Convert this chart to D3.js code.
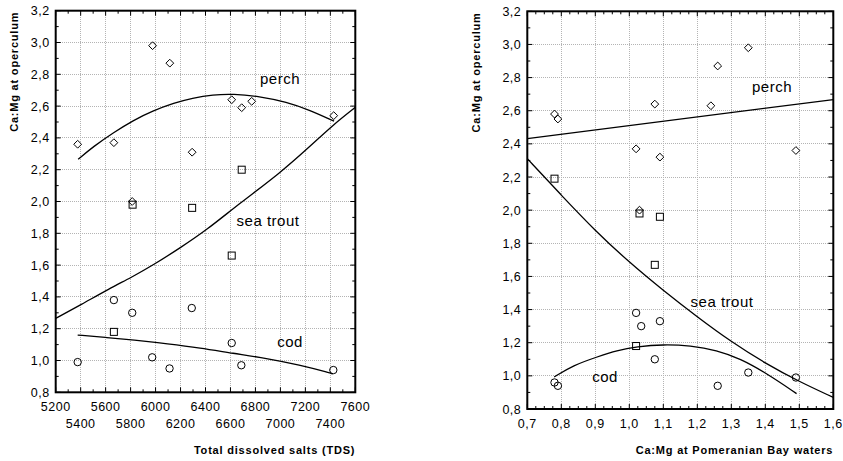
<!DOCTYPE html>
<html><head><meta charset="utf-8">
<script src="https://cdn.jsdelivr.net/npm/d3@7"></script>
<style>body{margin:0;background:#fff} text{font-family:"Liberation Sans",Arial,sans-serif;fill:#000}</style>
</head><body><svg id="c" width="843" height="461"></svg>
<script>
// ---------- DATA ----------
// Left panel: TDS vs Ca:Mg at operculum
const tdsPerch   = [5376,5666,5813,5976,6114,6293,6610,6690,6770,7427];
const perchCaMgL = [2.36,2.37,2.00,2.98,2.87,2.31,2.64,2.59,2.63,2.54];
const tdsTrout   = [5666,5816,6293,6610,6690];
const troutCaMgL = [1.18,1.98,1.96,1.66,2.20];
const tdsCod     = [5376,5666,5813,5973,6112,6290,6610,6687,7424];
const codCaMgL   = [0.99,1.38,1.30,1.02,0.95,1.33,1.11,0.97,0.94];
// fitted curves (left)
const perchFitLx = [5380,5500,5666,5820,5976,6150,6293,6460,6620,6830,7050,7235,7430];
const perchFitLy = [2.265,2.345,2.435,2.51,2.57,2.62,2.65,2.672,2.677,2.662,2.626,2.575,2.505];
const troutFitLx = [5200,5400,5634,5800,5981,6200,6408,6674,6994,7234,7421,7600];
const troutFitLy = [1.265,1.35,1.454,1.52,1.60,1.71,1.82,1.989,2.177,2.345,2.481,2.592];
const codFitLx   = [5376,5600,5821,6100,6354,6621,6888,7154,7394,7420];
const codFitLy   = [1.16,1.145,1.129,1.105,1.08,1.045,1.014,0.972,0.923,0.915];

// Right panel: Ca:Mg at Pomeranian Bay waters vs Ca:Mg at operculum
const bayPerch   = [0.78,0.79,1.02,1.03,1.075,1.09,1.24,1.26,1.35,1.49];
const perchCaMgR = [2.58,2.55,2.37,2.00,2.64,2.32,2.63,2.87,2.98,2.36];
const bayTrout   = [0.78,1.02,1.03,1.075,1.09];
const troutCaMgR = [2.19,1.18,1.98,1.67,1.96];
const bayCod     = [0.78,0.79,1.02,1.035,1.075,1.09,1.26,1.35,1.49];
const codCaMgR   = [0.96,0.94,1.38,1.30,1.10,1.33,0.94,1.02,0.99];
// fitted curves (right)
const perchFitRx = [0.7,1.6];
const perchFitRy = [2.432,2.667];
const troutFitRx = [0.7,0.8,0.9,1.0,1.1,1.2,1.3,1.4,1.5,1.6];
const troutFitRy = [2.311,2.09,1.875,1.685,1.515,1.355,1.205,1.075,0.965,0.87];
const codFitRx   = [0.779,0.835,0.905,0.964,1.022,1.1,1.18,1.257,1.326,1.404,1.492];
const codFitRy   = [0.993,1.064,1.114,1.154,1.176,1.19,1.182,1.155,1.104,1.015,0.893];

// ticks
const yTicks  = [0.8,1.0,1.2,1.4,1.6,1.8,2.0,2.2,2.4,2.6,2.8,3.0,3.2];
const xTicksL = [5200,5400,5600,5800,6000,6200,6400,6600,6800,7000,7200,7400,7600];
const xTicksR = [0.7,0.8,0.9,1.0,1.1,1.2,1.3,1.4,1.5,1.6];

const yTitle = "Ca:Mg at operculum";
const xTitleL = "Total dissolved salts (TDS)";
const xTitleR = "Ca:Mg at Pomeranian Bay waters";

// ---------- DRAW ----------
const svg = d3.select("#c");
const fmt = v => d3.format(".1f")(v).replace(".", ",");
const zip = (a,b) => a.map((v,i)=>[v,b[i]]);

function panel(o){
  const x = d3.scaleLinear().domain(o.xDom).range([o.x0,o.x1]);
  const y = d3.scaleLinear().domain([0.8,3.2]).range([o.y1,o.y0]);
  const g = svg.append("g");
  // grid
  const grid = g.append("g").attr("stroke","#b4b4b4").attr("stroke-width",1).attr("stroke-dasharray","1,1").attr("shape-rendering","crispEdges");
  o.xTicks.slice(1,-1).forEach(t=>grid.append("line").attr("x1",x(t)).attr("x2",x(t)).attr("y1",o.y0).attr("y2",o.y1));
  yTicks.slice(1,-1).forEach(t=>grid.append("line").attr("x1",o.x0).attr("x2",o.x1).attr("y1",y(t)).attr("y2",y(t)));
  // ticks inward
  const tk = g.append("g").attr("stroke","#000").attr("stroke-width",1);
  const xMinor = d3.range(o.xDom[0], o.xDom[1]+o.xMinor/2, o.xMinor);
  xMinor.forEach(t=>{
    const isMaj = o.xTicks.some(m=>Math.abs(m-t)<o.xMinor/4);
    const L = isMaj?5:3;
    tk.append("line").attr("x1",x(t)).attr("x2",x(t)).attr("y1",o.y1).attr("y2",o.y1-L);
    tk.append("line").attr("x1",x(t)).attr("x2",x(t)).attr("y1",o.y0).attr("y2",o.y0+L);
  });
  d3.range(0.8,3.25,0.1).forEach(t=>{
    const isMaj = yTicks.some(m=>Math.abs(m-t)<0.02);
    const L = isMaj?5:3;
    tk.append("line").attr("x1",o.x0).attr("x2",o.x0+L).attr("y1",y(t)).attr("y2",y(t));
    tk.append("line").attr("x1",o.x1).attr("x2",o.x1-L).attr("y1",y(t)).attr("y2",y(t));
  });
  // frame
  g.append("rect").attr("x",o.x0).attr("y",o.y0).attr("width",o.x1-o.x0).attr("height",o.y1-o.y0)
    .attr("fill","none").attr("stroke","#000").attr("stroke-width",2);
  // y labels
  yTicks.forEach(t=>g.append("text").attr("x",o.x0-6).attr("y",y(t)+4.5).attr("text-anchor","end")
    .attr("font-size",12.5).attr("letter-spacing",0.5).text(fmt(t)));
  // x labels
  o.xTicks.forEach((t,i)=>{
    const yy = o.stagger ? (i%2 ? o.y1+35.5 : o.y1+19) : o.y1+18.5;
    g.append("text").attr("x",x(t)).attr("y",yy).attr("text-anchor","middle")
      .attr("font-size",12.5).attr("letter-spacing",0.5).text(o.xFmt(t));
  });
  // titles
  g.append("text").attr("transform",`translate(${o.yTitleX},${o.y0+1}) rotate(-90)`).attr("text-anchor","end")
    .attr("font-size",11).attr("font-weight","bold").attr("letter-spacing",0.8).text(yTitle);
  g.append("text").attr("x",o.x1).attr("y",454).attr("text-anchor","end")
    .attr("font-size",11).attr("font-weight","bold").attr("letter-spacing",0.8).text(o.xTitle);
  // curves
  const line = d3.line().x(d=>x(d[0])).y(d=>y(d[1])).curve(d3.curveBasis);
  o.curves.forEach(c=>g.append("path").attr("d",line(c)).attr("fill","none").attr("stroke","#000").attr("stroke-width",1.3));
  // markers
  const mk = g.append("g").attr("fill","none").attr("stroke","#000").attr("stroke-width",1);
  o.cod.forEach(d=>mk.append("circle").attr("cx",x(d[0])).attr("cy",y(d[1])).attr("r",3.7));
  o.trout.forEach(d=>mk.append("rect").attr("x",x(d[0])-3.5).attr("y",y(d[1])-3.5).attr("width",7).attr("height",7));
  o.perch.forEach(d=>{const cx=x(d[0]),cy=y(d[1]),r=3.9;
    mk.append("path").attr("d",`M${cx},${cy-r}L${cx+r},${cy}L${cx},${cy+r}L${cx-r},${cy}Z`);});
  // curve labels
  o.labels.forEach(l=>g.append("text").attr("x",l[0]).attr("y",l[1]).attr("text-anchor","middle")
    .attr("font-size",15).attr("letter-spacing",0.5).text(l[2]));
}

panel({
  x0:55.7,x1:355.3,y0:10.7,y1:392.3,xDom:[5200,7600],xTicks:xTicksL,xMinor:100,stagger:true,
  xFmt:d=>String(d),xTitle:xTitleL,yTitleX:18,
  perch:zip(tdsPerch,perchCaMgL),trout:zip(tdsTrout,troutCaMgL),cod:zip(tdsCod,codCaMgL),
  curves:[zip(perchFitLx,perchFitLy),zip(troutFitLx,troutFitLy),zip(codFitLx,codFitLy)],
  labels:[[280,84,"perch"],[268,226,"sea trout"],[290,347,"cod"]]
});
panel({
  x0:527.3,x1:833.3,y0:11.3,y1:409,xDom:[0.7,1.6],xTicks:xTicksR,xMinor:0.025,stagger:false,
  xFmt:fmt,xTitle:xTitleR,yTitleX:480,
  perch:zip(bayPerch,perchCaMgR),trout:zip(bayTrout,troutCaMgR),cod:zip(bayCod,codCaMgR),
  curves:[zip(perchFitRx,perchFitRy),zip(troutFitRx,troutFitRy),zip(codFitRx,codFitRy)],
  labels:[[772,92,"perch"],[722,307,"sea trout"],[605,382,"cod"]]
});
</script></body></html>
